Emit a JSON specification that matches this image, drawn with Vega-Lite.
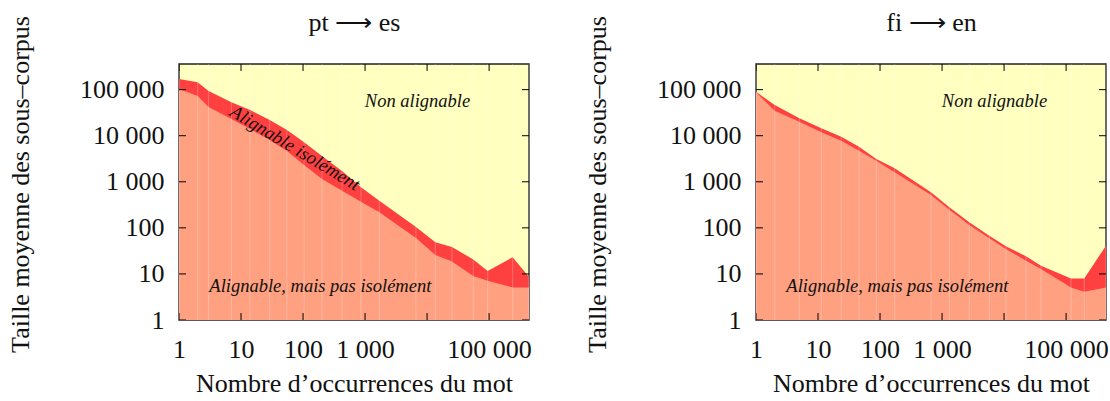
{
  "$schema": "https://vega.github.io/schema/vega-lite/v6.json",
  "padding": {"left": 6, "top": 8, "right": 0, "bottom": 0},
  "datasets": {
    "ptes": [
      {"n": 1, "hi": 170000, "lo": 103000},
      {"n": 2, "hi": 144500, "lo": 72800},
      {"n": 3, "hi": 93500, "lo": 42000},
      {"n": 7, "hi": 53200, "lo": 23100},
      {"n": 14, "hi": 36200, "lo": 14000},
      {"n": 29, "hi": 21900, "lo": 8080},
      {"n": 55, "hi": 13300, "lo": 4660},
      {"n": 104, "hi": 7190, "lo": 2310},
      {"n": 202, "hi": 3630, "lo": 1150},
      {"n": 425, "hi": 1710, "lo": 641},
      {"n": 860, "hi": 760, "lo": 370},
      {"n": 1700, "hi": 388, "lo": 218},
      {"n": 6620, "hi": 104, "lo": 60},
      {"n": 13600, "hi": 48.6, "lo": 25.8},
      {"n": 25200, "hi": 38.4, "lo": 18.6},
      {"n": 55600, "hi": 20.6, "lo": 9.0},
      {"n": 94900, "hi": 11.6, "lo": 7.1},
      {"n": 240000, "hi": 23, "lo": 5.1},
      {"n": 440000, "hi": 8.6, "lo": 5.1}
    ],
    "fien": [
      {"n": 1, "hi": 90300, "lo": 87500},
      {"n": 2, "hi": 46400, "lo": 34900},
      {"n": 5, "hi": 23900, "lo": 20100},
      {"n": 11.3, "hi": 14500, "lo": 11900},
      {"n": 23.7, "hi": 9530, "lo": 7800},
      {"n": 45.8, "hi": 5780, "lo": 4730},
      {"n": 87, "hi": 3120, "lo": 2870},
      {"n": 172, "hi": 1960, "lo": 1610},
      {"n": 663, "hi": 592, "lo": 517},
      {"n": 1310, "hi": 279, "lo": 248},
      {"n": 2750, "hi": 132, "lo": 115},
      {"n": 5780, "hi": 67.6, "lo": 59.4},
      {"n": 10700, "hi": 39.8, "lo": 34.8},
      {"n": 22600, "hi": 24.1, "lo": 19.4},
      {"n": 39400, "hi": 15.1, "lo": 12.8},
      {"n": 120000, "hi": 8.0, "lo": 5.1},
      {"n": 196000, "hi": 8.0, "lo": 4.1},
      {"n": 440000, "hi": 41, "lo": 5.1}
    ],
    "xticks": [
      {"v": 1, "at": 1}, {"v": 10, "at": 1}, {"v": 100, "at": 1}, {"v": 1000, "at": 1}, {"v": 10000, "at": 1}, {"v": 100000, "at": 1},
      {"v": 1, "at": 360000}, {"v": 10, "at": 360000}, {"v": 100, "at": 360000}, {"v": 1000, "at": 360000}, {"v": 10000, "at": 360000}, {"v": 100000, "at": 360000}
    ],
    "yticks": [
      {"v": 1, "at": 1}, {"v": 10, "at": 1}, {"v": 100, "at": 1}, {"v": 1000, "at": 1}, {"v": 10000, "at": 1}, {"v": 100000, "at": 1},
      {"v": 1, "at": 440000}, {"v": 10, "at": 440000}, {"v": 100, "at": 440000}, {"v": 1000, "at": 440000}, {"v": 10000, "at": 440000}, {"v": 100000, "at": 440000}
    ],
    "labels_common": [
      {"x": 7000, "y": 42600, "t": "Non alignable"},
      {"x": 190, "y": 4.11, "t": "Alignable, mais pas isolément"}
    ],
    "labels_band": [
      {"x": 66.4, "y": 4200, "t": "Alignable isolément"}
    ]
  },
  "config": {
    "view": {"fill": "#FFFFC0", "stroke": "#222", "strokeWidth": 1.5},
    "font": "Liberation Serif",
    "axis": {
      "labelFont": "Liberation Serif", "titleFont": "Liberation Serif",
      "labelFontSize": 26, "titleFontSize": 26, "titleFontWeight": "normal",
      "labelColor": "#111", "titleColor": "#111",
      "ticks": false, "domain": false, "grid": false,
      "labelOverlap": false, "labelFlush": false, "zindex": 1
    },
    "concat": {"spacing": 50}
  },
  "hconcat": [
    {
      "width": 350, "height": 256,
      "layer": [
        {
          "data": {"name": "ptes"},
          "mark": {"type": "area", "color": "#FF4040", "clip": true},
          "encoding": {
            "x": {"field": "n", "type": "quantitative", "scale": {"type": "log", "domain": [1, 440000], "nice": false},
                  "axis": {"orient": "bottom", "values": [1, 10, 100, 1000, 10000, 100000], "labelExpr": "datum.value == 10000 ? '' : replace(format(datum.value, ','), ',', ' ')", "title": "Nombre d’occurrences du mot", "labelPadding": 16, "titlePadding": 8}},
            "y": {"field": "hi", "type": "quantitative", "scale": {"type": "log", "domain": [1, 360000], "nice": false},
                  "axis": {"orient": "left", "values": [1, 10, 100, 1000, 10000, 100000], "labelExpr": "replace(format(datum.value, ','), ',', ' ')", "title": "Taille moyenne des sous–corpus", "labelPadding": 15, "titlePadding": 46, "titleY": 120}},
            "y2": {"datum": 1}
          }
        },
        {
          "data": {"name": "ptes"},
          "mark": {"type": "area", "color": "#FFA080", "clip": true},
          "encoding": {
            "x": {"field": "n", "type": "quantitative", "axis": {"orient": "top", "values": [1, 10, 100, 1000, 10000, 100000], "labels": false, "title": "pt ⟶ es", "titlePadding": 34, "titleBaseline": "alphabetic"}},
            "y": {"field": "lo", "type": "quantitative", "axis": null},
            "y2": {"datum": 1}
          }
        },
        {
          "data": {"name": "ptes"},
          "mark": {"type": "rule", "color": "#ffffff", "opacity": 0.25, "strokeWidth": 1},
          "encoding": {
            "x": {"field": "n", "type": "quantitative", "axis": null}
          }
        },
        {
          "data": {"name": "xticks"},
          "mark": {"type": "tick", "orient": "vertical", "size": 14, "thickness": 1, "color": "#000", "opacity": 1, "clip": true},
          "encoding": {
            "x": {"field": "v", "type": "quantitative", "axis": null},
            "y": {"field": "at", "type": "quantitative", "axis": null}
          }
        },
        {
          "data": {"name": "yticks"},
          "mark": {"type": "tick", "orient": "horizontal", "size": 14, "thickness": 1, "color": "#000", "opacity": 1, "clip": true},
          "encoding": {
            "x": {"field": "at", "type": "quantitative", "axis": null},
            "y": {"field": "v", "type": "quantitative", "axis": null}
          }
        },
        {
          "data": {"name": "labels_common"},
          "mark": {"type": "text", "font": "Liberation Serif", "fontStyle": "italic", "fontSize": 18.5, "align": "center", "baseline": "alphabetic", "color": "#111"},
          "encoding": {
            "x": {"field": "x", "type": "quantitative", "axis": null},
            "y": {"field": "y", "type": "quantitative", "axis": null},
            "text": {"field": "t"}
          }
        },
        {
          "data": {"name": "labels_band"},
          "mark": {"type": "text", "font": "Liberation Serif", "fontStyle": "italic", "fontSize": 18.5, "align": "center", "baseline": "alphabetic", "angle": 31, "color": "#111"},
          "encoding": {
            "x": {"field": "x", "type": "quantitative", "axis": null},
            "y": {"field": "y", "type": "quantitative", "axis": null},
            "text": {"field": "t"}
          }
        }
      ],
      "resolve": {"axis": {"x": "independent", "y": "independent"}}
    },
    {
      "width": 350, "height": 256,
      "layer": [
        {
          "data": {"name": "fien"},
          "mark": {"type": "area", "color": "#FF4040", "clip": true},
          "encoding": {
            "x": {"field": "n", "type": "quantitative", "scale": {"type": "log", "domain": [1, 440000], "nice": false},
                  "axis": {"orient": "bottom", "values": [1, 10, 100, 1000, 10000, 100000], "labelExpr": "datum.value == 10000 ? '' : replace(format(datum.value, ','), ',', ' ')", "title": "Nombre d’occurrences du mot", "labelPadding": 16, "titlePadding": 8}},
            "y": {"field": "hi", "type": "quantitative", "scale": {"type": "log", "domain": [1, 360000], "nice": false},
                  "axis": {"orient": "left", "values": [1, 10, 100, 1000, 10000, 100000], "labelExpr": "replace(format(datum.value, ','), ',', ' ')", "title": "Taille moyenne des sous–corpus", "labelPadding": 15, "titlePadding": 46, "titleY": 120}},
            "y2": {"datum": 1}
          }
        },
        {
          "data": {"name": "fien"},
          "mark": {"type": "area", "color": "#FFA080", "clip": true},
          "encoding": {
            "x": {"field": "n", "type": "quantitative", "axis": {"orient": "top", "values": [1, 10, 100, 1000, 10000, 100000], "labels": false, "title": "fi ⟶ en", "titlePadding": 34, "titleBaseline": "alphabetic"}},
            "y": {"field": "lo", "type": "quantitative", "axis": null},
            "y2": {"datum": 1}
          }
        },
        {
          "data": {"name": "fien"},
          "mark": {"type": "rule", "color": "#ffffff", "opacity": 0.25, "strokeWidth": 1},
          "encoding": {
            "x": {"field": "n", "type": "quantitative", "axis": null}
          }
        },
        {
          "data": {"name": "xticks"},
          "mark": {"type": "tick", "orient": "vertical", "size": 14, "thickness": 1, "color": "#000", "opacity": 1, "clip": true},
          "encoding": {
            "x": {"field": "v", "type": "quantitative", "axis": null},
            "y": {"field": "at", "type": "quantitative", "axis": null}
          }
        },
        {
          "data": {"name": "yticks"},
          "mark": {"type": "tick", "orient": "horizontal", "size": 14, "thickness": 1, "color": "#000", "opacity": 1, "clip": true},
          "encoding": {
            "x": {"field": "at", "type": "quantitative", "axis": null},
            "y": {"field": "v", "type": "quantitative", "axis": null}
          }
        },
        {
          "data": {"name": "labels_common"},
          "mark": {"type": "text", "font": "Liberation Serif", "fontStyle": "italic", "fontSize": 18.5, "align": "center", "baseline": "alphabetic", "color": "#111"},
          "encoding": {
            "x": {"field": "x", "type": "quantitative", "axis": null},
            "y": {"field": "y", "type": "quantitative", "axis": null},
            "text": {"field": "t"}
          }
        }
      ],
      "resolve": {"axis": {"x": "independent", "y": "independent"}}
    }
  ]
}
